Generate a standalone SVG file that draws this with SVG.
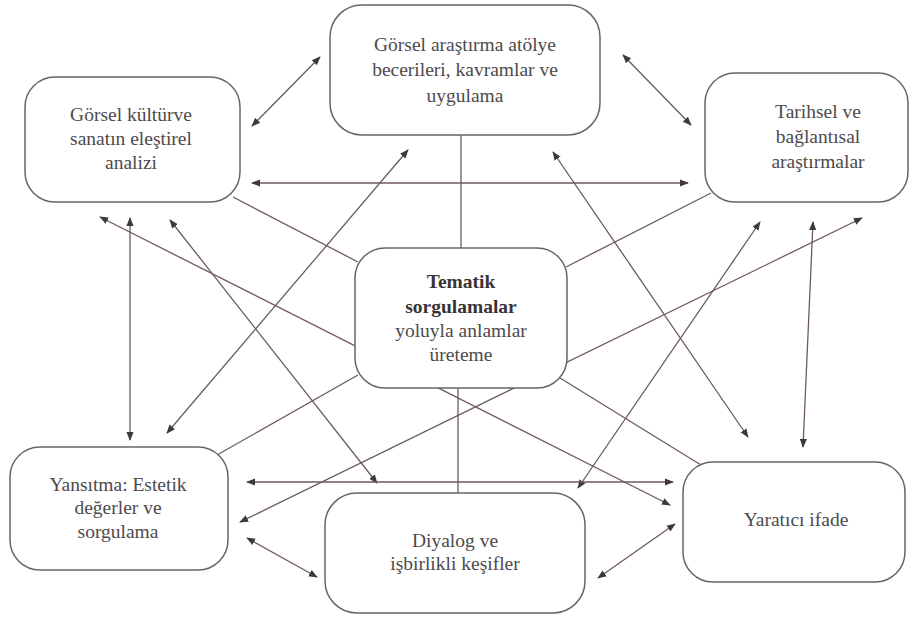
<svg xmlns="http://www.w3.org/2000/svg" width="913" height="617" viewBox="0 0 913 617">
<defs>
<marker id="ah" viewBox="0 0 10 10" refX="9" refY="5" markerWidth="9" markerHeight="9" markerUnits="userSpaceOnUse" orient="auto-start-reverse">
<path d="M0,1 L10,5 L0,9 Z" fill="#3e3a3c"/>
</marker>
</defs>
<style>
.box{fill:#fff;stroke:#6a6468;stroke-width:1.5}
.t{font-family:"Liberation Serif","DejaVu Serif",serif;font-size:19.5px;fill:#4e4a4c;text-anchor:middle}
.b{font-weight:bold;fill:#3a3336}
.c{stroke:#6e5863;stroke-width:1.3;fill:none}
.a{marker-start:url(#ah);marker-end:url(#ah)}
</style>
<rect width="913" height="617" fill="#fff"/>
<g id="connectors">
<line class="c" x1="461" y1="135" x2="461" y2="248"/>
<line class="c" x1="458" y1="388" x2="458" y2="493"/>
<line class="c" x1="233" y1="197" x2="358" y2="262"/>
<line class="c" x1="566" y1="267" x2="711" y2="193"/>
<line class="c" x1="358" y1="375" x2="217" y2="455"/>
<line class="c" x1="560" y1="378" x2="701" y2="465"/>
<line class="c a" x1="320" y1="57" x2="252" y2="126"/>
<line class="c a" x1="623" y1="55" x2="691" y2="125"/>
<line class="c a" x1="252" y1="183" x2="688" y2="183"/>
<line class="c a" x1="408" y1="150" x2="167" y2="433"/>
<line class="c a" x1="130" y1="218" x2="130" y2="440"/>
<line class="c a" x1="100" y1="217" x2="670" y2="505"/>
<line class="c a" x1="170" y1="220" x2="377" y2="483"/>
<line class="c a" x1="553" y1="152" x2="748" y2="437"/>
<line class="c a" x1="760" y1="222" x2="578" y2="488"/>
<line class="c a" x1="813" y1="222" x2="803" y2="447"/>
<line class="c a" x1="862" y1="218" x2="240" y2="522"/>
<line class="c a" x1="247" y1="482" x2="673" y2="482"/>
<line class="c a" x1="247" y1="538" x2="317" y2="577"/>
<line class="c a" x1="598" y1="578" x2="675" y2="524"/>
</g>
<g id="n-top">
<rect class="box" x="330" y="5" width="270" height="130" rx="32"/>
<text class="t" x="465" y="51">Görsel araştırma atölye</text>
<text class="t" x="465" y="76">becerileri, kavramlar ve</text>
<text class="t" x="465" y="102">uygulama</text>
</g>
<g id="n-left">
<rect class="box" x="25" y="77" width="215" height="125" rx="30"/>
<text class="t" x="131" y="121">Görsel kültürve</text>
<text class="t" x="131" y="145">sanatın eleştirel</text>
<text class="t" x="131" y="169">analizi</text>
</g>
<g id="n-right">
<rect class="box" x="705" y="73" width="203" height="129" rx="30"/>
<text class="t" x="818" y="118">Tarihsel ve</text>
<text class="t" x="818" y="143">bağlantısal</text>
<text class="t" x="818" y="168">araştırmalar</text>
</g>
<g id="n-center">
<rect class="box" x="355" y="248" width="212" height="140" rx="30"/>
<text class="t b" x="461" y="288">Tematik</text>
<text class="t b" x="461" y="313">sorgulamalar</text>
<text class="t" x="461" y="337">yoluyla anlamlar</text>
<text class="t" x="461" y="361">üreteme</text>
</g>
<g id="n-yansitma">
<rect class="box" x="10" y="447" width="218" height="123" rx="30"/>
<text class="t" x="118" y="491">Yansıtma: Estetik</text>
<text class="t" x="118" y="514">değerler ve</text>
<text class="t" x="118" y="538">sorgulama</text>
</g>
<g id="n-diyalog">
<rect class="box" x="325" y="493" width="260" height="120" rx="32"/>
<text class="t" x="455" y="547">Diyalog ve</text>
<text class="t" x="455" y="570">işbirlikli keşifler</text>
</g>
<g id="n-yaratici">
<rect class="box" x="683" y="462" width="222" height="120" rx="30"/>
<text class="t" x="796" y="526">Yaratıcı ifade</text>
</g>
</svg>
